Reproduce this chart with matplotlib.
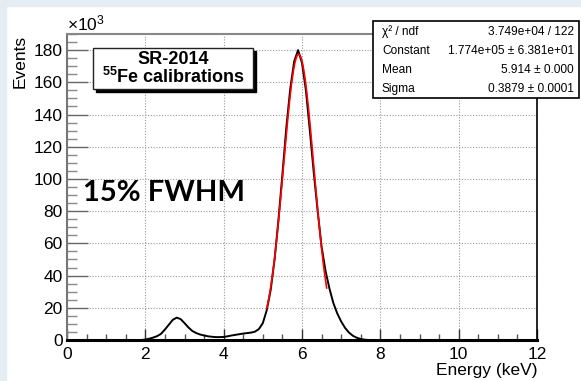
import numpy as np
import matplotlib
matplotlib.use("Agg")
import matplotlib.pyplot as plt
from matplotlib.patches import Rectangle
from matplotlib.ticker import MultipleLocator

plt.rcParams['font.family'] = ['Liberation Sans', 'DejaVu Sans']
plt.rcParams['mathtext.fontset'] = 'custom'
plt.rcParams['mathtext.rm'] = 'Liberation Sans'
plt.rcParams['mathtext.it'] = 'Liberation Sans:italic'
plt.rcParams['mathtext.bf'] = 'Liberation Sans:bold'

# 55Fe calibration spectrum (counts in units of 10^3)
energy = [0.0, 0.5, 1.0, 1.5, 1.9,
          2.0, 2.1, 2.2, 2.3, 2.4, 2.5, 2.6, 2.7, 2.8, 2.9,
          3.0, 3.1, 3.2, 3.3, 3.4, 3.5, 3.6, 3.7, 3.8, 3.9,
          4.0, 4.1, 4.2, 4.3, 4.4, 4.5, 4.6, 4.7, 4.8, 4.9,
          5.0, 5.1, 5.2, 5.3, 5.4, 5.5, 5.6, 5.7, 5.8, 5.9,
          6.0, 6.1, 6.2, 6.3, 6.4, 6.5, 6.6, 6.7, 6.8, 6.9,
          7.0, 7.1, 7.2, 7.3, 7.4, 7.5, 7.6, 7.7, 8.0, 9.0,
          10.0, 11.0, 12.0]
counts = [0.0, 0.0, 0.0, 0.0, 0.0,
          0.3, 0.8, 1.5, 2.4, 3.8, 6.5, 9.5, 12.5, 13.9, 13.0,
          10.5, 7.8, 5.6, 4.3, 3.4, 2.8, 2.3, 2.0, 1.8, 1.8,
          1.9, 2.3, 2.8, 3.2, 3.6, 4.0, 4.3, 4.6, 5.2, 6.8,
          10.5, 18.5, 31.0, 50.0, 75.0, 103.0, 132.0, 156.0, 173.0, 180.0,
          172.0, 155.0, 130.0, 104.0, 80.0, 58.0, 43.0, 32.0, 23.0, 16.5,
          11.5, 7.5, 4.6, 2.6, 1.4, 0.6, 0.2, 0.0, 0.0, 0.0,
          0.0, 0.0, 0.0]

# gaussian fit parameters (from stats box)
fit_const = 1.774e5
fit_mean = 5.914
fit_sigma = 0.3879
fit_range = [5.1, 6.63]

stats_names = ["χ² / ndf", "Constant", "Mean", "Sigma"]
stats_values = ["3.749e+04 / 122", "1.774e+05 ± 6.381e+01",
                "5.914 ± 0.000", "0.3879 ± 0.0001"]

W, H = 581, 381
fig = plt.figure(figsize=(W / 100, H / 100), dpi=100)
fig.patch.set_facecolor('white')

# light blue page border (left and top)
bg = '#e4ecf4'
fig.add_artist(Rectangle((0, 0), 6 / W, 1, transform=fig.transFigure, color=bg, zorder=0))
fig.add_artist(Rectangle((0, 1 - 6 / H), 1, 6 / H, transform=fig.transFigure, color=bg, zorder=0))

ax = fig.add_axes([67 / W, 41 / H, 470 / W, 306 / H])

ax.plot(energy, counts, color='black', lw=1.4, zorder=3)
xf = np.linspace(fit_range[0], fit_range[1], 200)
yf = fit_const * np.exp(-0.5 * ((xf - fit_mean) / fit_sigma) ** 2) / 1000.0
ax.plot(xf, yf, color='red', lw=1.2, zorder=4)

ax.set_xlim(0, 12)
ax.set_ylim(0, 190)
ax.xaxis.set_major_locator(MultipleLocator(2))
ax.xaxis.set_minor_locator(MultipleLocator(0.5))
ax.yaxis.set_major_locator(MultipleLocator(20))
ax.yaxis.set_minor_locator(MultipleLocator(5))
ax.grid(True, which='major', color='#9a9a9a', lw=0.8, ls=(0, (1, 1.5)))

ax.tick_params(axis='x', which='major', direction='in', length=8, width=1,
               color='#333333', labelsize=12.5, pad=5)
ax.tick_params(axis='x', which='minor', direction='in', length=4, width=1, color='#555555')
ax.tick_params(axis='y', which='major', direction='in', length=15, width=1,
               color='#666666', labelsize=12.5, pad=3)
ax.tick_params(axis='y', which='minor', direction='in', length=7, width=1, color='#888888')

ax.spines['bottom'].set_linewidth(2.2)
ax.spines['bottom'].set_color('black')
ax.spines['right'].set_color('black')
ax.spines['right'].set_linewidth(1.2)
ax.spines['left'].set_color('#777777')
ax.spines['left'].set_linewidth(1.5)
ax.spines['top'].set_color('#888888')
ax.spines['top'].set_linewidth(1.5)

def fx(px):
    return px / W

def fy(py):
    return 1 - py / H

fig.text(fx(67), fy(33), r'$\times$10$^{3}$', fontsize=12.5, ha='left', va='bottom')
fig.text(fx(20), fy(35), 'Events', fontsize=12.5, rotation=90, ha='center', va='top')
fig.text(fx(537), fy(370), 'Energy (keV)', fontsize=12.5, ha='right', va='center')

# label box with shadow
fig.add_artist(Rectangle((fx(96), fy(92)), 160 / W, 41 / H, transform=fig.transFigure,
                         facecolor='black', edgecolor='black', zorder=5))
fig.add_artist(Rectangle((fx(93), fy(89)), 160 / W, 41 / H, transform=fig.transFigure,
                         facecolor='white', edgecolor='#222222', lw=1, zorder=6))
fig.text(fx(173), fy(59), 'SR-2014', fontsize=13, fontweight='bold',
         ha='center', va='center', zorder=7)
fig.text(fx(173), fy(77), r'$^{\mathbf{55}}$Fe calibrations', fontsize=13,
         fontweight='bold', ha='center', va='center', zorder=7)

fig.text(fx(83), fy(193), '15% FWHM', fontsize=21, fontweight='bold',
         family=['Lato', 'DejaVu Sans'], ha='left', va='center', zorder=7)

# stats box
fig.add_artist(Rectangle((fx(373), fy(98)), 206 / W, 77 / H, transform=fig.transFigure,
                         facecolor='white', edgecolor='black', lw=1.2, zorder=5))
row_y = [32, 51, 70, 89]
for name, val, ry in zip(stats_names, stats_values, row_y):
    fig.text(fx(382), fy(ry), name, fontsize=8.6, ha='left', va='center', zorder=7)
    fig.text(fx(574), fy(ry), val, fontsize=8.6, ha='right', va='center', zorder=7)

fig.savefig('out.png', dpi=100)
